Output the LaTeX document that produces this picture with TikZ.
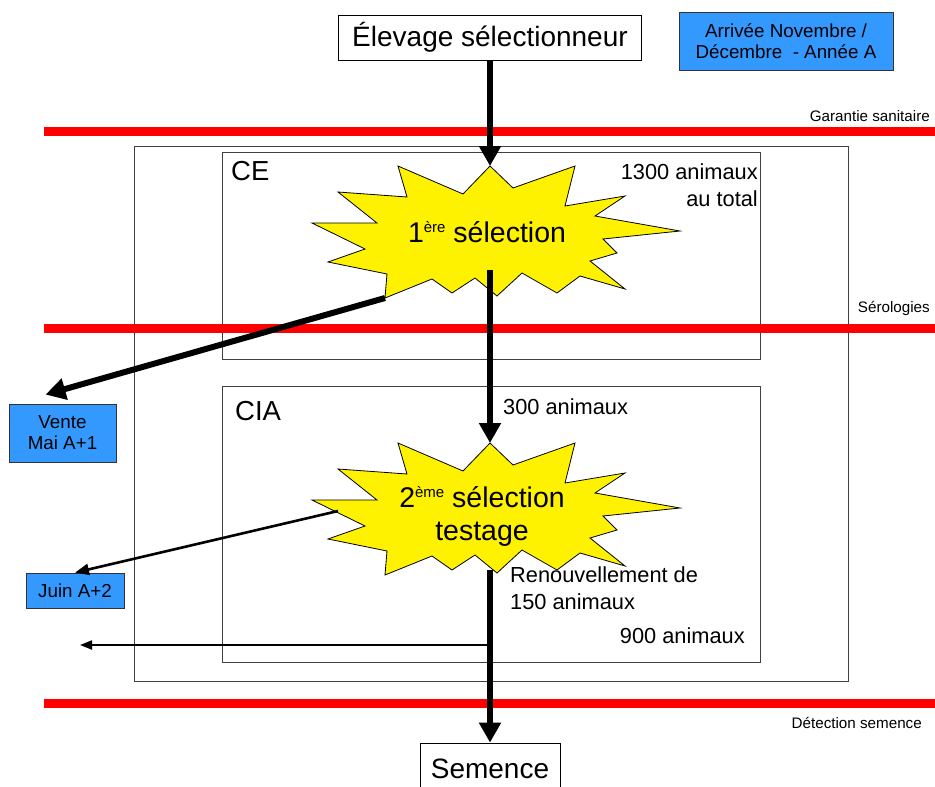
\documentclass[tikz,border=0pt]{standalone}
\usepackage{fontspec}
\setmainfont{Liberation Sans}
\usetikzlibrary{arrows.meta}

\newcommand\exposant[1]{\raisebox{10pt}{\fontsize{15}{15}\selectfont #1}}

\tikzset{
  burst/.pic={
    \draw[fill=yellow,line width=0.8pt,line join=miter]
      (0,-65) -- (-27,-37) -- (-92,-65) -- (-83,-34) -- (-152,-39) -- (-113,-8)
      -- (-178,-8) -- (-125,18) -- (-162,31) -- (-103,43) -- (-105,67) -- (-58,48)
      -- (-38,62) -- (-15,47) -- (7,65) -- (32,42) -- (67,62) -- (90,45)
      -- (135,58) -- (100,30) -- (127,22) -- (113,8) -- (190,0) -- (105,-15)
      -- (135,-35) -- (75,-25) -- (85,-65) -- (23,-43) -- cycle;
    \coordinate (-top) at (0,-65);
    \coordinate (-bl) at (-105,67);
    \coordinate (-lt) at (-152,3);
  }
}

\begin{document}
\begin{tikzpicture}[x=1pt,y=-1pt,
  plainbox/.style={draw,line width=0.8pt,fill=white,inner sep=0pt,font=\fontsize{28}{32}\selectfont},
  bluebox/.style={draw=black!80,line width=0.8pt,fill={rgb,255:red,51;green,153;blue,255},inner sep=0pt,font=\fontsize{18.8}{21}\selectfont},
  frame/.style={draw=black!75,line width=0.8pt},
  redline/.style={red,line width=9pt},
  small/.style={inner sep=0pt,font=\fontsize{15.2}{18}\selectfont},
  label/.style={inner sep=0pt,font=\fontsize{21.8}{27}\selectfont},
  title/.style={inner sep=0pt,font=\fontsize{27.5}{30}\selectfont},
  startext/.style={inner sep=0pt,font=\fontsize{28.5}{33}\selectfont},
  bigarrow/.style={line width=6pt,-{Triangle[width=21pt,length=20pt]}},
  midarrow/.style={line width=2.6pt,-{Triangle[width=11pt,length=14pt]}},
  smallarrow/.style={line width=2pt,-{Triangle[width=9pt,length=12pt]}}]

\useasboundingbox (0,0) rectangle (935,787);

% cadres
\draw[frame] (134,146) rectangle (848,681);
\draw[frame] (222,152) rectangle (760,359);
\draw[frame] (222,386) rectangle (760,662);

% barrieres sanitaires
\draw[redline] (44,131) -- (935,131);
\draw[redline] (44,328) -- (935,328);
\draw[redline] (44,703) -- (935,703);

\node[small,anchor=east] (garantie) at (930,116) {Garantie sanitaire};
\node[small,anchor=east] (serologies) at (930,308) {Sérologies};
\node[small,anchor=east] (detection) at (922,723) {Détection semence};

\node[title,anchor=west] (ce) at (231,171) {CE};
\node[title,anchor=west] (cia) at (235,411) {CIA};

\node[label,anchor=north east,align=right] (total) at (758,164) {1300 animaux\\au total};
\node[label,anchor=west] (trois) at (503,407) {300 animaux};
\node[label,anchor=north west,align=left] (renouv) at (510,566) {Renouvellement de\\150 animaux};
\node[label,anchor=east] (neuf) at (745,636) {900 animaux};

% selections
\pic (s1) at (490,231) {burst};
\pic (s2) at (490,508) {burst};
\node[startext] (sel1) at (487,232) {1\exposant{ère} sélection};
\node[startext,align=center] (sel2) at (482,516) {2\exposant{ème} sélection\\testage};

\node[plainbox,minimum width=303pt,minimum height=45pt] (elevage) at (490,37.5) {Élevage sélectionneur};
\node[plainbox,minimum width=140pt,minimum height=52pt] (semence) at (490,769) {Semence};
\node[bluebox,minimum width=214pt,minimum height=58pt,align=center] (arrivee) at (786,41) {Arrivée Novembre /\\Décembre\ \ - Année A};
\node[bluebox,minimum width=107pt,minimum height=58pt,align=center] (vente) at (62.5,433) {Vente\\Mai A+1};
\node[bluebox,minimum width=98pt,minimum height=35pt] (juin) at (75,590.5) {Juin A+2};

% flux
\coordinate (out1) at (490,270);
\coordinate (out2) at (490,570);
\coordinate (exit) at (80,645);

\draw[bigarrow] (elevage.south) -- (s1-top);
\draw[bigarrow] (out1) -- (s2-top);
\draw[bigarrow] (out2) -- (semence.north);
\draw[bigarrow] (s1-bl) -- ([xshift=-17pt,yshift=9pt]vente.north);
\draw[midarrow] (s2-lt) -- (juin.north);
\draw[smallarrow] (out2 |- exit) -- (exit);

\end{tikzpicture}
\end{document}
